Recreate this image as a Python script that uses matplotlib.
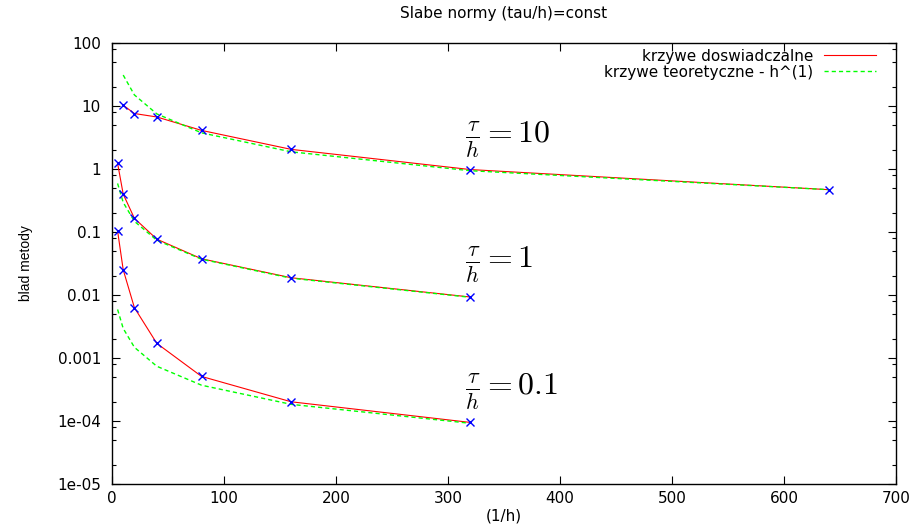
import matplotlib
matplotlib.use('Agg')
import matplotlib.pyplot as plt
from matplotlib.ticker import FixedLocator, FixedFormatter, LogLocator, NullFormatter

plt.rcParams['font.family'] = ['DejaVu Sans']
plt.rcParams['mathtext.fontset'] = 'cm'

# tau/h = 10
n_top = [10, 20, 40, 80, 160, 320, 640]
err_top = [10.3, 7.6, 6.7, 4.1, 2.05, 0.98, 0.47]
theo_top = [31, 15, 7.5, 3.75, 1.875, 0.94, 0.47]

# tau/h = 1
n_mid = [5, 10, 20, 40, 80, 160, 320]
err_mid = [1.23, 0.40, 0.165, 0.077, 0.0376, 0.0188, 0.0093]
theo_mid = [0.59, 0.295, 0.148, 0.074, 0.037, 0.0185, 0.0092]

# tau/h = 0.1
n_bot = [5, 10, 20, 40, 80, 160, 320]
err_bot = [0.104, 0.0252, 0.0063, 0.00171, 0.00051, 0.000202, 0.000095]
theo_bot = [0.0059, 0.00295, 0.00148, 0.00074, 0.00037, 0.000184, 0.000092]

series = [(n_top, err_top, theo_top), (n_mid, err_mid, theo_mid), (n_bot, err_bot, theo_bot)]

labels = [r'$\frac{\tau}{h} = 10$', r'$\frac{\tau}{h} = 1$', r'$\frac{\tau}{h} = 0.1$']
label_pos = [(315, 2.9), (315, 0.030), (315, 0.00029)]

yticks = [1e-5, 1e-4, 1e-3, 1e-2, 1e-1, 1, 10, 100]
ytick_labels = ['1e-05', '1e-04', '0.001', '0.01', '0.1', '1', '10', '100']
xticks = [0, 100, 200, 300, 400, 500, 600, 700]

fig = plt.figure(figsize=(9.15, 5.29), dpi=100)
ax = fig.add_axes([0.1224, 0.085, 0.8568, 0.8337])

for i, (n, err, theo) in enumerate(series):
    ax.plot(n, err, color='#ff0000', lw=0.8,
            label='krzywe doswiadczalne' if i == 0 else None)
    ax.plot(n, theo, color='#00ff00', lw=1.0, dashes=(3, 2.2),
            label='krzywe teoretyczne - h^(1)' if i == 0 else None)
for n, err, theo in series:
    ax.plot(n, err, ls='none', marker='x', ms=5.5, mew=1.0, color='#0000ff')

for txt, (x, y) in zip(labels, label_pos):
    ax.text(x, y, txt, fontsize=23, ha='left', va='center')

ax.set_yscale('log')
ax.set_xlim(0, 700)
ax.set_ylim(1e-5, 100)
ax.yaxis.set_major_locator(FixedLocator(yticks))
ax.yaxis.set_major_formatter(FixedFormatter(ytick_labels))
ax.yaxis.set_minor_locator(LogLocator(base=10, subs=(2, 5, 8), numticks=20))
ax.yaxis.set_minor_formatter(NullFormatter())
ax.set_xticks(xticks)

ax.tick_params(which='both', direction='in', top=True, right=True, labelsize=11)
ax.tick_params(which='major', length=6, width=0.8)
ax.tick_params(which='minor', length=3, width=0.8)
ax.tick_params(axis='y', pad=8)
ax.tick_params(axis='x', pad=5)
for s in ax.spines.values():
    s.set_linewidth(1.0)

ax.set_title('Slabe normy (tau/h)=const', fontsize=11, pad=18)
ax.set_xlabel('(1/h)', fontsize=11, labelpad=2)
ax.set_ylabel('blad metody', fontsize=10, family='Liberation Sans', labelpad=17)

ax.legend(loc='upper right', bbox_to_anchor=(0.9745, 0.987), frameon=False,
          markerfirst=False, fontsize=11, handlelength=3.4, handletextpad=0.7,
          labelspacing=0.05, borderpad=0, borderaxespad=0)

fig.savefig('out.png', dpi=100)
